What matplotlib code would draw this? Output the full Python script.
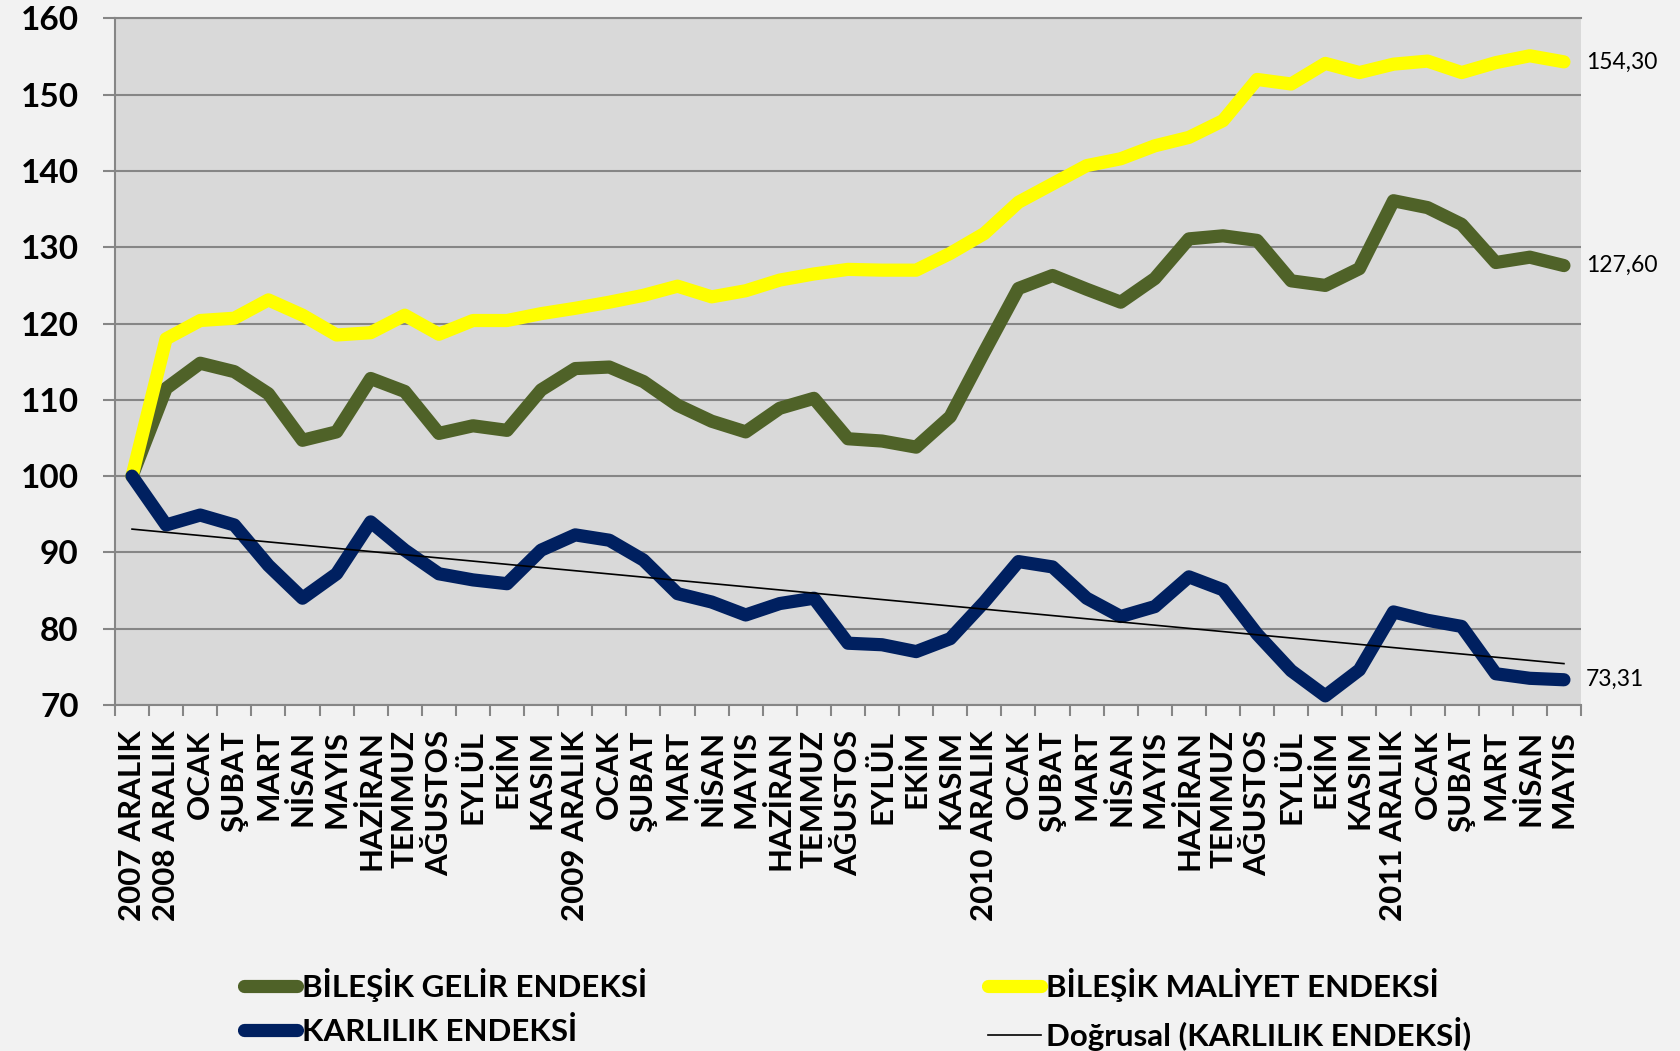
import numpy as np
import matplotlib
matplotlib.use('Agg')
import matplotlib.pyplot as plt
from matplotlib.lines import Line2D

plt.rcParams['font.family'] = ['Lato', 'DejaVu Sans']

# data
months = ['2007 ARALIK', '2008 ARALIK', 'OCAK', 'ŞUBAT', 'MART', 'NİSAN', 'MAYIS',
          'HAZİRAN', 'TEMMUZ', 'AĞUSTOS', 'EYLÜL', 'EKİM', 'KASIM',
          '2009 ARALIK', 'OCAK', 'ŞUBAT', 'MART', 'NİSAN', 'MAYIS',
          'HAZİRAN', 'TEMMUZ', 'AĞUSTOS', 'EYLÜL', 'EKİM', 'KASIM',
          '2010 ARALIK', 'OCAK', 'ŞUBAT', 'MART', 'NİSAN', 'MAYIS',
          'HAZİRAN', 'TEMMUZ', 'AĞUSTOS', 'EYLÜL', 'EKİM', 'KASIM',
          '2011 ARALIK', 'OCAK', 'ŞUBAT', 'MART', 'NİSAN', 'MAYIS']

gelir = [100.0, 111.5, 114.8, 113.7, 110.8, 104.7, 105.8, 112.8, 111.1, 105.6,
         106.6, 106.0, 111.3, 114.1, 114.3, 112.4, 109.3, 107.2, 105.8, 108.9,
         110.2, 104.9, 104.6, 103.8, 107.8, 116.3, 124.6, 126.3, 124.5, 122.8,
         125.9, 131.1, 131.5, 130.9, 125.6, 125.0, 127.2, 136.1, 135.2, 133.0,
         128.0, 128.7, 127.6]

maliyet = [100.0, 118.0, 120.4, 120.7, 123.1, 121.1, 118.5, 118.8, 121.1, 118.6,
           120.4, 120.4, 121.3, 122.0, 122.8, 123.7, 124.9, 123.5, 124.3, 125.7,
           126.5, 127.1, 127.0, 127.0, 129.2, 131.8, 135.9, 138.3, 140.7, 141.6,
           143.3, 144.4, 146.6, 152.0, 151.4, 154.1, 152.9, 154.0, 154.4, 152.9,
           154.2, 155.1, 154.3]

karlilik = [100.0, 93.6, 94.9, 93.6, 88.3, 84.0, 87.2, 94.0, 90.3, 87.2,
            86.4, 85.9, 90.3, 92.3, 91.6, 89.0, 84.6, 83.5, 81.8, 83.3,
            84.0, 78.1, 77.9, 77.0, 78.7, 83.5, 88.8, 88.1, 84.0, 81.6,
            82.9, 86.8, 85.1, 79.3, 74.5, 71.2, 74.6, 82.2, 81.1, 80.3,
            74.1, 73.5, 73.31]

c_gelir = '#4f6228'
c_maliyet = '#ffff00'
c_karlilik = '#002060'
c_grid = '#868686'

x = np.arange(len(months))
slope, icpt = np.polyfit(x, karlilik, 1)
trend = slope * x + icpt

fig = plt.figure(figsize=(16.81, 10.51), dpi=100, facecolor='#f2f2f2')
ax = fig.add_axes([0.0684, 0.3292, 0.8721, 0.6533])
ax.set_facecolor('#d9d9d9')

lw = 9.5
style = dict(linewidth=lw, solid_capstyle='round', solid_joinstyle='round')
ax.plot(x, gelir, color=c_gelir, **style)
ax.plot(x, maliyet, color=c_maliyet, **style)
ax.plot(x, karlilik, color=c_karlilik, **style)
ax.plot(x, trend, color='black', linewidth=1.2)

ax.set_xlim(-0.5, len(months) - 0.5)
ax.set_ylim(70, 160)
ax.set_yticks(np.arange(70, 161, 10))
ax.yaxis.grid(True, color=c_grid, linewidth=1.5)
ax.set_axisbelow(True)

for s in ['left', 'bottom', 'top']:
    ax.spines[s].set_color(c_grid)
    ax.spines[s].set_linewidth(1.5)
ax.spines['right'].set_visible(False)

ax.tick_params(axis='y', length=9, width=1.5, color=c_grid, pad=17,
               labelsize=24)
for t in ax.get_yticklabels():
    t.set_fontweight('bold')

ax.set_xticks(x)
ax.set_xticklabels(months, rotation=90, fontsize=22.5, fontweight='bold')
ax.set_xticks(np.arange(-0.5, len(months), 1), minor=True)
ax.tick_params(axis='x', which='major', length=0, pad=18)
ax.tick_params(axis='x', which='minor', length=8, width=1.5, color=c_grid)

# value labels at the end of each series
for ser in [maliyet, gelir, karlilik]:
    ax.annotate('{:.2f}'.format(ser[-1]).replace('.', ','),
                xy=(x[-1], ser[-1]), xytext=(16, 0), textcoords='offset points',
                ha='left', va='center', fontsize=16.5, annotation_clip=False)

handles = [Line2D([], [], color=c_gelir, **style),
           Line2D([], [], color=c_karlilik, **style),
           Line2D([], [], color=c_maliyet, **style),
           Line2D([], [], color='black', linewidth=1.2)]
names = ['BİLEŞİK GELİR ENDEKSİ', 'KARLILIK ENDEKSİ',
         'BİLEŞİK MALİYET ENDEKSİ', 'Doğrusal (KARLILIK ENDEKSİ)']
leg = fig.legend(handles, names, ncol=2, loc='lower left',
                 bbox_to_anchor=(0.1285, -0.027), frameon=False,
                 prop={'weight': 'bold', 'size': 22.5},
                 handlelength=1.7, handletextpad=0.15, columnspacing=10.9,
                 labelspacing=0.5)

fig.savefig('out.png', dpi=100, facecolor=fig.get_facecolor())
